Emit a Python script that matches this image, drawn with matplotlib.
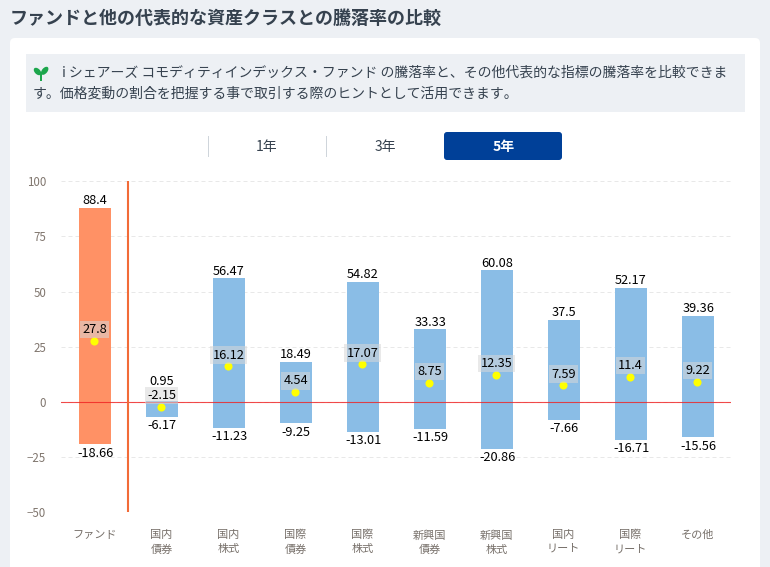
import matplotlib
matplotlib.use('Agg')
import matplotlib.pyplot as plt
from matplotlib.patches import FancyBboxPatch, Rectangle, Ellipse
from matplotlib.transforms import Affine2D

plt.rcParams['font.family'] = ['Noto Sans CJK JP', 'DejaVu Sans']

# chart data
categories = ['ファンド', '国内\n債券', '国内\n株式', '国際\n債券', '国際\n株式',
              '新興国\n債券', '新興国\n株式', '国内\nリート', '国際\nリート', 'その他']
max_values = [88.4, 0.95, 56.47, 18.49, 54.82, 33.33, 60.08, 37.5, 52.17, 39.36]
min_values = [-18.66, -6.17, -11.23, -9.25, -13.01, -11.59, -20.86, -7.66, -16.71, -15.56]
mean_values = [27.8, -2.15, 16.12, 4.54, 17.07, 8.75, 12.35, 7.59, 11.4, 9.22]
y_ticks = [100, 75, 50, 25, 0, -25, -50]
periods = ['1年', '3年', '5年']

title = 'ファンドと他の代表的な資産クラスとの騰落率の比較'
info_line1 = 'i シェアーズ コモディティインデックス・ファンド の騰落率と、その他代表的な指標の騰落率を比較できま'
info_line2 = 'す。価格変動の割合を把握する事で取引する際のヒントとして活用できます。'

W, H = 770, 567
fig = plt.figure(figsize=(W / 100, H / 100), dpi=100, facecolor='#edf0f4')

# page furniture in pixel coordinates
bg = fig.add_axes([0, 0, 1, 1], zorder=0)
bg.set_xlim(0, W)
bg.set_ylim(H, 0)
bg.axis('off')
bg.add_patch(FancyBboxPatch((10, 38), 750, 560, boxstyle='round,pad=0,rounding_size=5',
                            fc='white', ec='none'))
bg.add_patch(Rectangle((26, 54), 719, 58, fc='#edf0f4', ec='none'))
bg.text(10, 18, title, fontsize=13, fontweight='bold', color='#36424f', va='center')
bg.text(62, 73, info_line1, fontsize=10, color='#36424f', va='center')
bg.text(33, 94, info_line2, fontsize=10, color='#36424f', va='center')

# sprout icon
bg.add_patch(Rectangle((39.8, 73), 2.6, 8, fc='#1ca64c', ec='none'))
bg.add_patch(Ellipse((37.5, 71.5), 9, 5.5, angle=45, fc='#1ca64c', ec='none'))
bg.add_patch(Ellipse((44.7, 70.8), 9.5, 5.5, angle=-50, fc='#1ca64c', ec='none'))

# period switch
bg.plot([207.5, 207.5], [136, 156], color='#cfd5db', lw=0.72)
bg.plot([325.5, 325.5], [136, 156], color='#cfd5db', lw=0.72)
bg.add_patch(FancyBboxPatch((444, 132), 118, 28, boxstyle='round,pad=0,rounding_size=3',
                            fc='#004098', ec='none'))
bg.text(266.5, 146.5, periods[0], fontsize=10, color='#36424f', ha='center', va='center')
bg.text(385.5, 146.5, periods[1], fontsize=10, color='#36424f', ha='center', va='center')
bg.text(503.5, 146.5, periods[2], fontsize=10, color='white', fontweight='bold', ha='center', va='center')

# chart
ax = fig.add_axes([61 / W, 1 - 512.3 / H, 670 / W, 331 / H], zorder=1)
ax.patch.set_alpha(0)
x = list(range(len(categories)))
heights = [mx - mn for mx, mn in zip(max_values, min_values)]
colors = ['#ff9165'] + ['#8abde6'] * (len(categories) - 1)

# the bars sit a pixel low and the dots half a pixel left in the original
bars = ax.bar(x, heights, bottom=min_values, width=0.48, color=colors, zorder=2)
for b in bars:
    b.set_transform(ax.transData + Affine2D().translate(0.5, -1))

ax.axhline(0, color='#f02020', lw=0.8, alpha=0.8, zorder=3)
ax.axvline(0.5, color='#f26b38', lw=1.5, zorder=3)
ax.scatter(x, mean_values, s=34, color='#ffff00', zorder=4, linewidths=0,
           transform=ax.transData + Affine2D().translate(-0.5, 0))

for i in x:
    # the label of a very short bar is pushed above the mean label
    up = 13.5 if max_values[i] - mean_values[i] < 5 else 4.5
    ax.annotate(str(max_values[i]), (i, max_values[i]), xytext=(0.4, up), textcoords='offset points',
                ha='center', va='center', fontsize=9.2, color='black', zorder=6)
    ax.annotate(str(min_values[i]), (i, min_values[i]), xytext=(0.4, -7.1), textcoords='offset points',
                ha='center', va='center', fontsize=9.2, color='black', zorder=6)
    ax.annotate(str(mean_values[i]), (i, mean_values[i]), xytext=(0, 8), textcoords='offset points',
                ha='center', va='center', fontsize=9.2, color='black', zorder=5,
                bbox=dict(boxstyle='square,pad=0.18', fc='#d8d8d8', ec='none', alpha=0.55))

ax.set_xlim(-0.5, 9.5)
ax.set_ylim(-50, 100)
ax.set_yticks(y_ticks)
ax.set_xticks(x)
ax.set_xticklabels(categories, fontsize=8, color='#77706a', linespacing=1.5)
ax.tick_params(axis='both', length=0)
ax.tick_params(axis='y', labelsize=8.3, labelcolor='#80766e', pad=10.8)
ax.tick_params(axis='x', pad=12.7)
ax.grid(axis='y', color='#e8e8e8', lw=0.72, ls=(0, (4, 3)), zorder=0)
for s in ax.spines.values():
    s.set_visible(False)
ax.set_axisbelow(True)

fig.savefig('out.png', dpi=100, facecolor=fig.get_facecolor())
